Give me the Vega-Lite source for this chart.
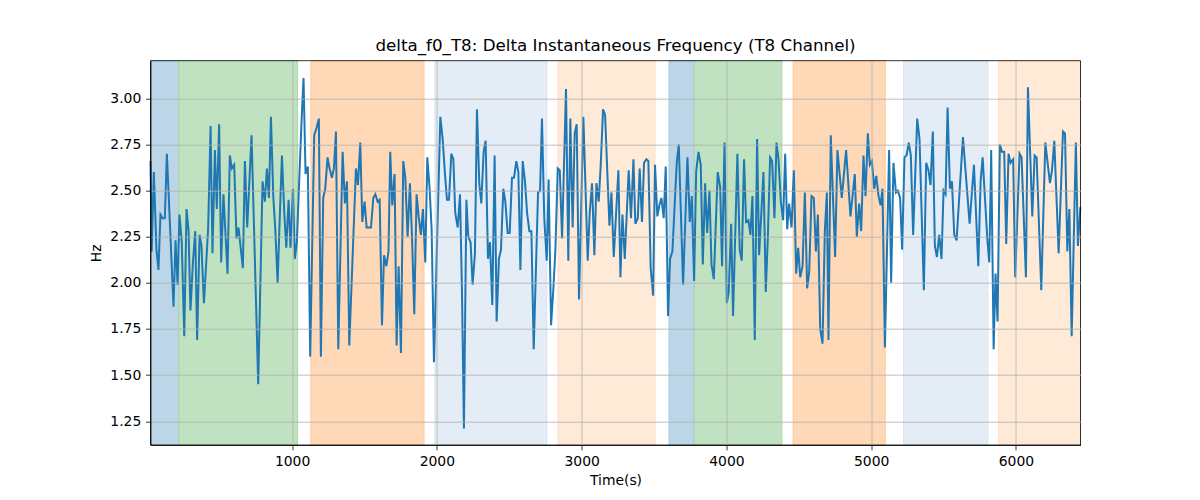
{
  "$schema": "https://vega.github.io/schema/vega-lite/v6.json",
  "width": 930,
  "height": 384.3,
  "autosize": "none",
  "padding": {"left": 150.5, "top": 60.7, "right": 119.5, "bottom": 55},
  "background": "white",
  "config": {
    "font": "DejaVu Sans",
    "view": {"stroke": null},
    "axis": {
      "grid": true,
      "gridColor": "#b0b0b0",
      "gridWidth": 0.8,
      "tickColor": "black",
      "tickSize": 4.86,
      "tickWidth": 0.8,
      "labelPadding": 4.86,
      "labelFontSize": 13.9,
      "labelColor": "black",
      "labelFlush": false,
      "labelOverlap": false,
      "titleFontSize": 13.9,
      "titleColor": "black",
      "titleFontWeight": "normal",
      "domainColor": "black",
      "domainWidth": 0.8
    }
  },
  "title": {
    "text": "delta_f0_T8: Delta Instantaneous Frequency (T8 Channel)",
    "fontSize": 16.7,
    "fontWeight": "normal",
    "color": "black",
    "font": "DejaVu Sans",
    "offset": 6,
    "anchor": "middle"
  },
  "datasets": {
    "spans": [
      {"phase": "A", "start": 22, "end": 218},
      {"phase": "B", "start": 218, "end": 1038},
      {"phase": "C", "start": 1130, "end": 1911},
      {"phase": "D", "start": 1987, "end": 2759},
      {"phase": "E", "start": 2837, "end": 3507},
      {"phase": "A", "start": 3604, "end": 3777},
      {"phase": "B", "start": 3777, "end": 4383},
      {"phase": "C", "start": 4461, "end": 5097},
      {"phase": "D", "start": 5224, "end": 5806},
      {"phase": "E", "start": 5880, "end": 6446}
    ],
    "f0": [
      {"t": 22, "hz": 2.66}, {"t": 30, "hz": 2.17}, {"t": 45, "hz": 2.60}, {"t": 63, "hz": 2.18},
      {"t": 77, "hz": 2.07}, {"t": 91, "hz": 2.37}, {"t": 105, "hz": 2.35}, {"t": 121, "hz": 2.35},
      {"t": 135, "hz": 2.70}, {"t": 181, "hz": 1.87}, {"t": 195, "hz": 2.23}, {"t": 209, "hz": 1.99},
      {"t": 222, "hz": 2.37}, {"t": 238, "hz": 2.22}, {"t": 255, "hz": 1.71}, {"t": 271, "hz": 2.40},
      {"t": 285, "hz": 2.28}, {"t": 298, "hz": 1.85}, {"t": 315, "hz": 2.11}, {"t": 331, "hz": 2.28},
      {"t": 344, "hz": 1.69}, {"t": 361, "hz": 2.26}, {"t": 374, "hz": 2.20}, {"t": 391, "hz": 1.89},
      {"t": 420, "hz": 2.29}, {"t": 437, "hz": 2.85}, {"t": 450, "hz": 2.16}, {"t": 467, "hz": 2.72},
      {"t": 480, "hz": 2.40}, {"t": 496, "hz": 2.86}, {"t": 510, "hz": 2.11}, {"t": 526, "hz": 2.48},
      {"t": 554, "hz": 2.05}, {"t": 570, "hz": 2.69}, {"t": 584, "hz": 2.62}, {"t": 600, "hz": 2.64},
      {"t": 616, "hz": 2.24}, {"t": 630, "hz": 2.30}, {"t": 660, "hz": 2.08}, {"t": 674, "hz": 2.66},
      {"t": 690, "hz": 2.30}, {"t": 720, "hz": 2.80}, {"t": 766, "hz": 1.45}, {"t": 796, "hz": 2.55},
      {"t": 812, "hz": 2.44}, {"t": 826, "hz": 2.62}, {"t": 840, "hz": 2.46}, {"t": 854, "hz": 2.90},
      {"t": 870, "hz": 2.47}, {"t": 884, "hz": 2.29}, {"t": 900, "hz": 2.00}, {"t": 916, "hz": 2.38},
      {"t": 930, "hz": 2.69}, {"t": 946, "hz": 2.38}, {"t": 960, "hz": 2.19}, {"t": 976, "hz": 2.45},
      {"t": 989, "hz": 2.19}, {"t": 1006, "hz": 2.51}, {"t": 1019, "hz": 2.13}, {"t": 1033, "hz": 2.22},
      {"t": 1049, "hz": 2.55}, {"t": 1065, "hz": 2.87}, {"t": 1079, "hz": 3.11}, {"t": 1093, "hz": 2.59},
      {"t": 1109, "hz": 2.63}, {"t": 1125, "hz": 1.60}, {"t": 1153, "hz": 2.80}, {"t": 1169, "hz": 2.84},
      {"t": 1185, "hz": 2.89}, {"t": 1199, "hz": 1.60}, {"t": 1215, "hz": 2.46}, {"t": 1229, "hz": 2.51},
      {"t": 1245, "hz": 2.68}, {"t": 1259, "hz": 2.62}, {"t": 1275, "hz": 2.57}, {"t": 1289, "hz": 2.62},
      {"t": 1303, "hz": 2.82}, {"t": 1319, "hz": 1.64}, {"t": 1349, "hz": 2.71}, {"t": 1365, "hz": 2.43},
      {"t": 1379, "hz": 2.55}, {"t": 1395, "hz": 1.66}, {"t": 1441, "hz": 2.62}, {"t": 1455, "hz": 2.53},
      {"t": 1471, "hz": 2.76}, {"t": 1485, "hz": 2.33}, {"t": 1501, "hz": 2.44}, {"t": 1515, "hz": 2.30},
      {"t": 1531, "hz": 2.30}, {"t": 1545, "hz": 2.30}, {"t": 1561, "hz": 2.46}, {"t": 1575, "hz": 2.48},
      {"t": 1591, "hz": 2.44}, {"t": 1605, "hz": 2.45}, {"t": 1621, "hz": 1.77}, {"t": 1635, "hz": 2.15},
      {"t": 1651, "hz": 2.09}, {"t": 1666, "hz": 2.17}, {"t": 1678, "hz": 2.71}, {"t": 1692, "hz": 2.42},
      {"t": 1708, "hz": 2.59}, {"t": 1722, "hz": 1.66}, {"t": 1736, "hz": 2.09}, {"t": 1752, "hz": 1.62},
      {"t": 1768, "hz": 2.66}, {"t": 1782, "hz": 2.57}, {"t": 1798, "hz": 2.25}, {"t": 1814, "hz": 2.54},
      {"t": 1828, "hz": 2.26}, {"t": 1844, "hz": 1.83}, {"t": 1860, "hz": 2.48}, {"t": 1874, "hz": 2.36},
      {"t": 1890, "hz": 2.26}, {"t": 1904, "hz": 2.40}, {"t": 1920, "hz": 2.11}, {"t": 1934, "hz": 2.68},
      {"t": 1950, "hz": 2.51}, {"t": 1964, "hz": 2.29}, {"t": 1980, "hz": 1.57}, {"t": 2024, "hz": 2.90},
      {"t": 2040, "hz": 2.78}, {"t": 2056, "hz": 2.59}, {"t": 2070, "hz": 2.45}, {"t": 2084, "hz": 2.45},
      {"t": 2100, "hz": 2.70}, {"t": 2114, "hz": 2.67}, {"t": 2127, "hz": 2.38}, {"t": 2144, "hz": 2.30},
      {"t": 2160, "hz": 2.48}, {"t": 2174, "hz": 1.93}, {"t": 2187, "hz": 1.21}, {"t": 2204, "hz": 2.45},
      {"t": 2217, "hz": 2.25}, {"t": 2233, "hz": 2.22}, {"t": 2247, "hz": 1.99}, {"t": 2263, "hz": 2.16},
      {"t": 2277, "hz": 2.94}, {"t": 2293, "hz": 2.54}, {"t": 2307, "hz": 2.43}, {"t": 2323, "hz": 2.71},
      {"t": 2337, "hz": 2.77}, {"t": 2353, "hz": 2.13}, {"t": 2367, "hz": 2.22}, {"t": 2383, "hz": 1.88},
      {"t": 2399, "hz": 2.69}, {"t": 2413, "hz": 1.79}, {"t": 2429, "hz": 2.13}, {"t": 2443, "hz": 2.18},
      {"t": 2459, "hz": 2.51}, {"t": 2473, "hz": 2.44}, {"t": 2489, "hz": 2.27}, {"t": 2503, "hz": 2.27},
      {"t": 2519, "hz": 2.57}, {"t": 2533, "hz": 2.57}, {"t": 2549, "hz": 2.66}, {"t": 2563, "hz": 2.60},
      {"t": 2577, "hz": 2.07}, {"t": 2593, "hz": 2.66}, {"t": 2609, "hz": 2.55}, {"t": 2623, "hz": 2.38},
      {"t": 2639, "hz": 2.28}, {"t": 2653, "hz": 2.28}, {"t": 2669, "hz": 1.64}, {"t": 2699, "hz": 2.49},
      {"t": 2713, "hz": 2.50}, {"t": 2726, "hz": 2.89}, {"t": 2742, "hz": 2.35}, {"t": 2759, "hz": 2.12},
      {"t": 2772, "hz": 2.56}, {"t": 2789, "hz": 1.77}, {"t": 2805, "hz": 1.97}, {"t": 2819, "hz": 2.18},
      {"t": 2835, "hz": 2.62}, {"t": 2849, "hz": 2.61}, {"t": 2865, "hz": 2.24}, {"t": 2892, "hz": 3.05},
      {"t": 2908, "hz": 2.12}, {"t": 2922, "hz": 2.89}, {"t": 2938, "hz": 2.30}, {"t": 2952, "hz": 2.81},
      {"t": 2966, "hz": 2.86}, {"t": 2982, "hz": 1.91}, {"t": 3012, "hz": 2.90}, {"t": 3042, "hz": 2.12},
      {"t": 3056, "hz": 2.38}, {"t": 3072, "hz": 2.54}, {"t": 3088, "hz": 2.15}, {"t": 3102, "hz": 2.54},
      {"t": 3118, "hz": 2.44}, {"t": 3132, "hz": 2.64}, {"t": 3148, "hz": 2.94}, {"t": 3162, "hz": 2.91},
      {"t": 3192, "hz": 2.31}, {"t": 3206, "hz": 2.49}, {"t": 3222, "hz": 2.14}, {"t": 3254, "hz": 2.61},
      {"t": 3268, "hz": 2.03}, {"t": 3282, "hz": 2.37}, {"t": 3298, "hz": 2.13}, {"t": 3325, "hz": 2.61},
      {"t": 3341, "hz": 2.35}, {"t": 3358, "hz": 2.67}, {"t": 3371, "hz": 2.32}, {"t": 3388, "hz": 2.35},
      {"t": 3401, "hz": 2.62}, {"t": 3417, "hz": 2.33}, {"t": 3431, "hz": 2.65}, {"t": 3447, "hz": 2.67},
      {"t": 3461, "hz": 2.66}, {"t": 3477, "hz": 2.08}, {"t": 3494, "hz": 1.93}, {"t": 3507, "hz": 2.64},
      {"t": 3523, "hz": 2.36}, {"t": 3537, "hz": 2.42}, {"t": 3551, "hz": 2.46}, {"t": 3567, "hz": 2.35},
      {"t": 3581, "hz": 2.63}, {"t": 3597, "hz": 1.82}, {"t": 3611, "hz": 2.13}, {"t": 3627, "hz": 2.17},
      {"t": 3657, "hz": 2.65}, {"t": 3671, "hz": 2.75}, {"t": 3701, "hz": 1.99}, {"t": 3731, "hz": 2.68},
      {"t": 3747, "hz": 2.33}, {"t": 3761, "hz": 2.47}, {"t": 3777, "hz": 2.01}, {"t": 3791, "hz": 2.60},
      {"t": 3807, "hz": 2.71}, {"t": 3823, "hz": 2.64}, {"t": 3837, "hz": 2.10}, {"t": 3853, "hz": 2.54},
      {"t": 3867, "hz": 2.27}, {"t": 3883, "hz": 2.50}, {"t": 3897, "hz": 2.10}, {"t": 3913, "hz": 2.02},
      {"t": 3940, "hz": 2.60}, {"t": 3957, "hz": 2.52}, {"t": 3970, "hz": 2.09}, {"t": 3987, "hz": 2.76},
      {"t": 4003, "hz": 1.89}, {"t": 4016, "hz": 1.95}, {"t": 4033, "hz": 2.32}, {"t": 4046, "hz": 1.82},
      {"t": 4076, "hz": 2.70}, {"t": 4092, "hz": 2.18}, {"t": 4106, "hz": 2.12}, {"t": 4122, "hz": 2.67},
      {"t": 4136, "hz": 2.33}, {"t": 4152, "hz": 2.34}, {"t": 4166, "hz": 2.26}, {"t": 4180, "hz": 2.47},
      {"t": 4196, "hz": 1.69}, {"t": 4212, "hz": 2.78}, {"t": 4226, "hz": 2.15}, {"t": 4256, "hz": 2.60},
      {"t": 4272, "hz": 1.95}, {"t": 4286, "hz": 2.24}, {"t": 4302, "hz": 2.68}, {"t": 4316, "hz": 2.66},
      {"t": 4332, "hz": 2.35}, {"t": 4346, "hz": 2.76}, {"t": 4360, "hz": 2.67}, {"t": 4376, "hz": 2.44},
      {"t": 4392, "hz": 2.34}, {"t": 4406, "hz": 2.70}, {"t": 4420, "hz": 2.29}, {"t": 4433, "hz": 2.43},
      {"t": 4450, "hz": 2.30}, {"t": 4466, "hz": 2.61}, {"t": 4482, "hz": 2.05}, {"t": 4496, "hz": 2.19},
      {"t": 4510, "hz": 2.03}, {"t": 4526, "hz": 2.09}, {"t": 4542, "hz": 2.49}, {"t": 4558, "hz": 1.97},
      {"t": 4572, "hz": 2.06}, {"t": 4588, "hz": 2.47}, {"t": 4604, "hz": 2.46}, {"t": 4618, "hz": 2.17},
      {"t": 4632, "hz": 2.37}, {"t": 4648, "hz": 1.75}, {"t": 4664, "hz": 1.67}, {"t": 4680, "hz": 2.28},
      {"t": 4694, "hz": 2.49}, {"t": 4705, "hz": 1.69}, {"t": 4721, "hz": 2.80}, {"t": 4751, "hz": 2.14},
      {"t": 4767, "hz": 2.72}, {"t": 4797, "hz": 2.46}, {"t": 4827, "hz": 2.72}, {"t": 4857, "hz": 2.36},
      {"t": 4887, "hz": 2.59}, {"t": 4901, "hz": 2.25}, {"t": 4917, "hz": 2.43}, {"t": 4931, "hz": 2.28},
      {"t": 4947, "hz": 2.69}, {"t": 4961, "hz": 2.47}, {"t": 4977, "hz": 2.81}, {"t": 4991, "hz": 2.64},
      {"t": 5005, "hz": 2.66}, {"t": 5021, "hz": 2.51}, {"t": 5035, "hz": 2.58}, {"t": 5051, "hz": 2.47},
      {"t": 5065, "hz": 2.42}, {"t": 5078, "hz": 2.51}, {"t": 5095, "hz": 1.65}, {"t": 5124, "hz": 2.72},
      {"t": 5138, "hz": 2.00}, {"t": 5154, "hz": 2.65}, {"t": 5171, "hz": 2.49}, {"t": 5184, "hz": 2.50},
      {"t": 5200, "hz": 2.46}, {"t": 5214, "hz": 2.18}, {"t": 5230, "hz": 2.68}, {"t": 5244, "hz": 2.69},
      {"t": 5260, "hz": 2.76}, {"t": 5274, "hz": 2.69}, {"t": 5290, "hz": 2.26}, {"t": 5318, "hz": 2.89},
      {"t": 5334, "hz": 2.78}, {"t": 5364, "hz": 1.96}, {"t": 5380, "hz": 2.65}, {"t": 5396, "hz": 2.61},
      {"t": 5410, "hz": 2.53}, {"t": 5426, "hz": 2.82}, {"t": 5440, "hz": 2.20}, {"t": 5454, "hz": 2.14},
      {"t": 5470, "hz": 2.26}, {"t": 5486, "hz": 2.13}, {"t": 5500, "hz": 2.50}, {"t": 5514, "hz": 2.48},
      {"t": 5528, "hz": 2.95}, {"t": 5544, "hz": 2.51}, {"t": 5558, "hz": 2.55}, {"t": 5574, "hz": 2.26},
      {"t": 5590, "hz": 2.23}, {"t": 5634, "hz": 2.79}, {"t": 5680, "hz": 2.32}, {"t": 5710, "hz": 2.64},
      {"t": 5740, "hz": 2.09}, {"t": 5756, "hz": 2.55}, {"t": 5770, "hz": 2.68}, {"t": 5802, "hz": 2.24},
      {"t": 5816, "hz": 2.11}, {"t": 5829, "hz": 2.72}, {"t": 5846, "hz": 1.64}, {"t": 5859, "hz": 2.05},
      {"t": 5873, "hz": 1.79}, {"t": 5889, "hz": 2.75}, {"t": 5903, "hz": 2.71}, {"t": 5919, "hz": 2.71},
      {"t": 5933, "hz": 2.21}, {"t": 5949, "hz": 2.70}, {"t": 5963, "hz": 2.65}, {"t": 5981, "hz": 2.67},
      {"t": 5995, "hz": 2.03}, {"t": 6025, "hz": 2.70}, {"t": 6039, "hz": 2.68}, {"t": 6069, "hz": 2.03},
      {"t": 6083, "hz": 3.06}, {"t": 6113, "hz": 2.36}, {"t": 6129, "hz": 2.69}, {"t": 6143, "hz": 2.68},
      {"t": 6175, "hz": 1.96}, {"t": 6203, "hz": 2.76}, {"t": 6235, "hz": 2.54}, {"t": 6249, "hz": 2.61},
      {"t": 6265, "hz": 2.77}, {"t": 6295, "hz": 2.16}, {"t": 6325, "hz": 2.82}, {"t": 6339, "hz": 2.81},
      {"t": 6355, "hz": 2.17}, {"t": 6369, "hz": 2.40}, {"t": 6385, "hz": 1.71}, {"t": 6414, "hz": 2.76},
      {"t": 6428, "hz": 2.20}, {"t": 6445, "hz": 2.41}
    ]
  },
  "layer": [
    {
      "data": {"name": "spans"},
      "mark": {"type": "rect", "strokeWidth": 1},
      "encoding": {
        "x": {
          "field": "start",
          "type": "quantitative",
          "scale": {"domain": [22, 6446], "nice": false, "zero": false},
          "axis": {"title": "Time(s)", "values": [1000, 2000, 3000, 4000, 5000, 6000], "format": "d", "titlePadding": 5, "zindex": 1}
        },
        "x2": {"field": "end"},
        "color": {
          "field": "phase",
          "type": "nominal",
          "scale": {"domain": ["A", "B", "C", "D", "E"], "range": ["#bcd6e8", "#c0e2c0", "#ffd9b7", "#e4edf6", "#ffead8"]},
          "legend": null
        },
        "stroke": {
          "field": "phase",
          "type": "nominal",
          "scale": {"domain": ["A", "B", "C", "D", "E"], "range": ["#9fc6e1", "#a5d6a5", "#ffc896", "#d6e4f0", "#ffdfc4"]},
          "legend": null
        }
      }
    },
    {
      "data": {"name": "f0"},
      "mark": {"type": "line", "color": "#1f77b4", "strokeWidth": 2},
      "encoding": {
        "x": {"field": "t", "type": "quantitative"},
        "y": {
          "field": "hz",
          "type": "quantitative",
          "scale": {"domain": [1.121, 3.204], "nice": false, "zero": false},
          "axis": {"title": "Hz", "values": [1.25, 1.5, 1.75, 2.0, 2.25, 2.5, 2.75, 3.0], "format": ".2f", "titlePadding": 6, "zindex": 1}
        }
      }
    },
    {
      "data": {"values": [{}]},
      "mark": {"type": "rect", "filled": false, "stroke": "black", "strokeWidth": 0.8},
      "encoding": {}
    }
  ]
}
